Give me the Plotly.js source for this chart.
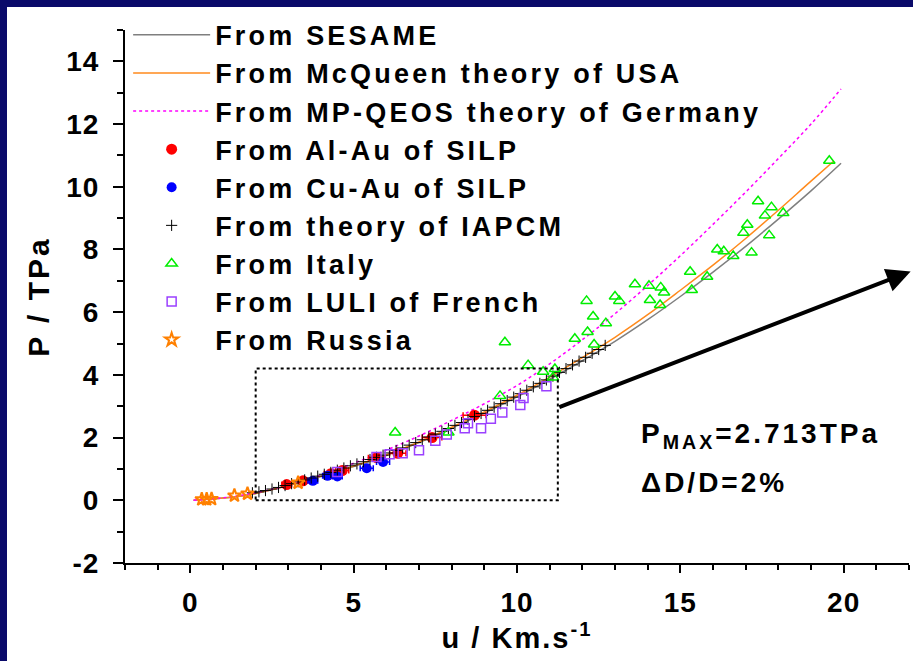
<!DOCTYPE html>
<html>
<head>
<meta charset="utf-8">
<script src="https://cdn.plot.ly/plotly-3.0.1.min.js"></script>
<style>
  html, body { margin: 0; padding: 0; background: #0a0a6a; width: 913px; height: 661px; overflow: hidden; }
  #frame { position: absolute; left: 7px; top: 7px; width: 906px; height: 654px; background: #fff; }
  #chart { width: 906px; height: 654px; }
  .legendtext { letter-spacing: 3.2px; }
  .annotation-text { letter-spacing: 3px; }
  .g-xtitle text { letter-spacing: 2px; }
  .g-ytitle text { letter-spacing: 3px; }
  .xtick text, .ytick text { letter-spacing: 1px; }
</style>
</head>
<body>
<div id="frame"><div id="chart"></div></div>
<script>
// Gold Hugoniot: pressure P (TPa) against particle velocity u (km/s)

// Equation-of-state curves
const sesameU = [0.1, 0.5, 1, 1.5, 2, 3, 4, 5, 6, 7, 8, 9, 10, 11, 12, 13, 14, 15, 16, 17, 18, 19, 19.92];
const sesameP = [0.0, 0.03, 0.07, 0.13, 0.22, 0.47, 0.76, 1.08, 1.43, 1.84, 2.30, 2.78, 3.30, 3.86, 4.45, 5.07, 5.76, 6.50, 7.28, 8.10, 8.97, 9.87, 10.75];

const mcqueenU = [0.1, 0.5, 1, 1.5, 2, 3, 4, 5, 6, 7, 8, 9, 10, 11, 12, 13, 14, 15, 16, 17, 18, 19, 19.7];
const mcqueenP = [0.0, 0.03, 0.07, 0.13, 0.22, 0.47, 0.77, 1.09, 1.45, 1.86, 2.33, 2.82, 3.35, 3.93, 4.55, 5.20, 5.92, 6.70, 7.50, 8.35, 9.25, 10.18, 10.82];

const qeosU = [0.1, 0.5, 1, 1.5, 2, 3, 4, 5, 6, 7, 8, 9, 10, 11, 12, 13, 14, 15, 16, 17, 18, 19, 19.92];
const qeosP = [0.0, 0.03, 0.08, 0.15, 0.24, 0.48, 0.80, 1.18, 1.60, 2.05, 2.55, 3.08, 3.66, 4.35, 5.12, 5.95, 6.85, 7.80, 8.80, 9.83, 10.90, 12.00, 13.12];

// Measurements
const alAuU = [2.95, 3.45, 4.30, 4.65, 5.70, 6.35, 7.40, 8.70];
const alAuP = [0.50, 0.62, 0.85, 0.95, 1.36, 1.50, 2.00, 2.713];
const alAuErr = [0.15, 0.15, 0.20, 0.20, 0.25, 0.25, 0.30, 0.35];

const cuAuU = [3.75, 4.20, 4.50, 5.40, 5.90];
const cuAuP = [0.62, 0.78, 0.76, 1.02, 1.22];
const cuAuErr = [0.15, 0.15, 0.15, 0.20, 0.20];

const iapcmU = [1.9, 2.1, 2.3, 2.5, 2.7, 2.9, 3.1, 3.3, 3.5, 3.7, 3.9, 4.1, 4.3, 4.5, 4.7, 4.9,
  5.1, 5.3, 5.5, 5.7, 5.9, 6.1, 6.3, 6.5, 6.7, 6.9, 7.1, 7.3, 7.5, 7.7, 7.9, 8.1, 8.3, 8.5,
  8.7, 8.9, 9.1, 9.3, 9.5, 9.7, 9.9, 10.1, 10.3, 10.5, 10.7, 10.9, 11.1, 11.3, 11.5, 11.7,
  11.9, 12.1, 12.3, 12.5, 12.7];
const iapcmP = [0.24, 0.27, 0.31, 0.36, 0.41, 0.47, 0.53, 0.59, 0.65, 0.71, 0.77, 0.83, 0.89, 0.96, 1.03, 1.10,
  1.16, 1.23, 1.30, 1.37, 1.44, 1.51, 1.59, 1.67, 1.76, 1.84, 1.93, 2.02, 2.11, 2.20, 2.29, 2.39, 2.48, 2.58,
  2.67, 2.77, 2.87, 2.97, 3.08, 3.18, 3.29, 3.40, 3.51, 3.62, 3.73, 3.84, 3.96, 4.08, 4.20, 4.32,
  4.44, 4.56, 4.69, 4.81, 4.94];

const italyU = [6.27, 7.90, 9.48, 9.63, 10.34, 10.80, 11.10, 11.16, 11.77, 12.13, 12.16, 12.33, 12.36, 12.72,
  13.00, 13.13, 13.61, 14.04, 14.07, 14.38, 14.40, 14.50, 15.30, 15.35, 15.82, 16.13, 16.33, 16.62,
  16.93, 17.05, 17.18, 17.38, 17.59, 17.72, 17.79, 18.15, 19.56];
const italyP = [2.16, 2.16, 3.33, 5.04, 4.31, 4.10, 3.92, 4.19, 5.15, 6.36, 5.37, 5.86, 4.97, 5.65,
  6.50, 6.36, 6.89, 6.84, 6.39, 6.23, 6.79, 6.63, 7.29, 6.71, 7.13, 8.00, 7.94, 7.79,
  8.53, 8.79, 7.90, 9.54, 9.08, 8.45, 9.35, 9.16, 10.83];

const luliU = [4.50, 5.70, 6.10, 6.50, 7.00, 7.50, 7.85, 8.40, 8.50, 8.90, 9.20, 9.55, 10.10, 10.20, 10.90];
const luliP = [0.90, 1.38, 1.47, 1.50, 1.60, 1.90, 2.10, 2.30, 2.46, 2.30, 2.60, 2.80, 3.04, 3.26, 3.64];

const russiaU = [0.35, 0.50, 0.65, 1.35, 1.75, 3.30];
const russiaP = [0.03, 0.03, 0.04, 0.15, 0.21, 0.56];

// Axis ticks
const xTickVals = [0, 5, 10, 15, 20];
const yTickVals = [-2, 0, 2, 4, 6, 8, 10, 12, 14];
const yTickText = ['-2', '0', '2', '4', '6', '8', '10', '12', '14'];

// Zoomed-in window and the arrow pointing to the annotation
const boxX = [2.0, 11.25];
const boxY = [0.0, 4.2];
const arrowFrom = [11.25, 2.95];
const arrowTo = [22.05, 7.3];

const FONT = 'Liberation Sans, Arial, Helvetica, sans-serif';

const traces = [
  { x: sesameU, y: sesameP, name: 'From SESAME', mode: 'lines',
    line: { color: '#7f7f7f', width: 1.5, shape: 'spline' } },
  { x: mcqueenU, y: mcqueenP, name: 'From McQueen theory of USA', mode: 'lines',
    line: { color: '#ff8a1c', width: 1.5, shape: 'spline' } },
  { x: qeosU, y: qeosP, name: 'From MP-QEOS theory of Germany', mode: 'lines',
    line: { color: '#ff00ff', width: 1.5, dash: 'dot', shape: 'spline' } },
  { x: alAuU, y: alAuP, name: 'From Al-Au of SILP', mode: 'markers',
    marker: { color: '#ff0000', size: 11, symbol: 'circle' },
    error_x: { type: 'data', array: alAuErr, visible: true, color: '#ff0000', thickness: 1.5, width: 3 } },
  { x: cuAuU, y: cuAuP, name: 'From Cu-Au of SILP', mode: 'markers',
    marker: { color: '#0000ff', size: 10, symbol: 'circle' },
    error_x: { type: 'data', array: cuAuErr, visible: true, color: '#0000ff', thickness: 1.5, width: 3 } },
  { x: iapcmU, y: iapcmP, name: 'From theory of IAPCM', mode: 'markers',
    marker: { color: '#000000', size: 8, symbol: 'cross-thin', line: { color: '#000000', width: 1 } } },
  { x: italyU, y: italyP, name: 'From Italy', mode: 'markers',
    marker: { color: '#00ee00', size: 10, symbol: 'triangle-up-open', line: { color: '#00ee00', width: 1.5 } } },
  { x: luliU, y: luliP, name: 'From LULI of French', mode: 'markers',
    marker: { color: '#9a40ff', size: 9, symbol: 'square-open', line: { color: '#9a40ff', width: 1.5 } } },
  { x: russiaU, y: russiaP, name: 'From Russia', mode: 'markers',
    marker: { color: '#ff8000', size: 10, symbol: 'star-open', line: { color: '#ff8000', width: 2 } } }
];

const axisCommon = {
  showline: true, linecolor: '#000', linewidth: 2,
  showgrid: false, zeroline: false,
  ticks: 'outside', tickcolor: '#000', tickwidth: 2,
  tickfont: { family: FONT, size: 28, color: '#000', weight: 'bold' },
  automargin: false
};

const layout = {
  width: 906, height: 654,
  margin: { l: 118, r: 4, t: 19.6, b: 97.9 },
  paper_bgcolor: '#ffffff', plot_bgcolor: '#ffffff',
  font: { family: FONT, color: '#000' },
  showlegend: true,
  legend: {
    x: 0.004, y: 1.036, xanchor: 'left', yanchor: 'top',
    maxheight: 1,
    bgcolor: 'rgba(0,0,0,0)', borderwidth: 0,
    itemwidth: 77,
    font: { family: FONT, size: 27, color: '#000', weight: 'bold' }
  },
  xaxis: Object.assign({}, axisCommon, {
    range: [-2, 22], tickmode: 'array', tickvals: xTickVals, ticklen: 8,
    ticklabelstandoff: 5,
    minor: { dtick: 1, tick0: 0, ticks: 'outside', ticklen: 5, tickwidth: 2, tickcolor: '#000' },
    title: { text: 'u / Km.s<sup>-1</sup>', standoff: 8,
      font: { family: FONT, size: 29, color: '#000', weight: 'bold' } }
  }),
  yaxis: Object.assign({}, axisCommon, {
    range: [-2, 15], tickmode: 'array', tickvals: yTickVals, ticktext: yTickText, ticklen: 10,
    ticklabelstandoff: 8,
    minor: { dtick: 1, tick0: 0, ticks: 'outside', ticklen: 6, tickwidth: 2, tickcolor: '#000' },
    title: { text: 'P / TPa', standoff: 8,
      font: { family: FONT, size: 30, color: '#000', weight: 'bold' } }
  }),
  shapes: [
    { type: 'rect', xref: 'x', yref: 'y', x0: boxX[0], x1: boxX[1], y0: boxY[0], y1: boxY[1],
      line: { color: '#000', width: 2, dash: 'dot' }, fillcolor: 'rgba(0,0,0,0)' }
  ],
  annotations: [
    { xref: 'x', yref: 'y', axref: 'x', ayref: 'y',
      x: arrowTo[0], y: arrowTo[1], ax: arrowFrom[0], ay: arrowFrom[1],
      text: '', showarrow: true, arrowhead: 2, arrowsize: 1.2, arrowwidth: 4, arrowcolor: '#000' },
    { xref: 'x', yref: 'y', x: 13.73, y: 2.06, xanchor: 'left', yanchor: 'middle', showarrow: false,
      text: 'P<sub>MAX</sub>=2.713TPa',
      font: { family: FONT, size: 28, color: '#000', weight: 'bold' } },
    { xref: 'x', yref: 'y', x: 13.73, y: 0.57, xanchor: 'left', yanchor: 'middle', showarrow: false,
      text: 'ΔD/D=2%',
      font: { family: FONT, size: 28, color: '#000', weight: 'bold' } }
  ]
};

Plotly.newPlot('chart', traces, layout, { displayModeBar: false, staticPlot: true });
</script>
</body>
</html>
